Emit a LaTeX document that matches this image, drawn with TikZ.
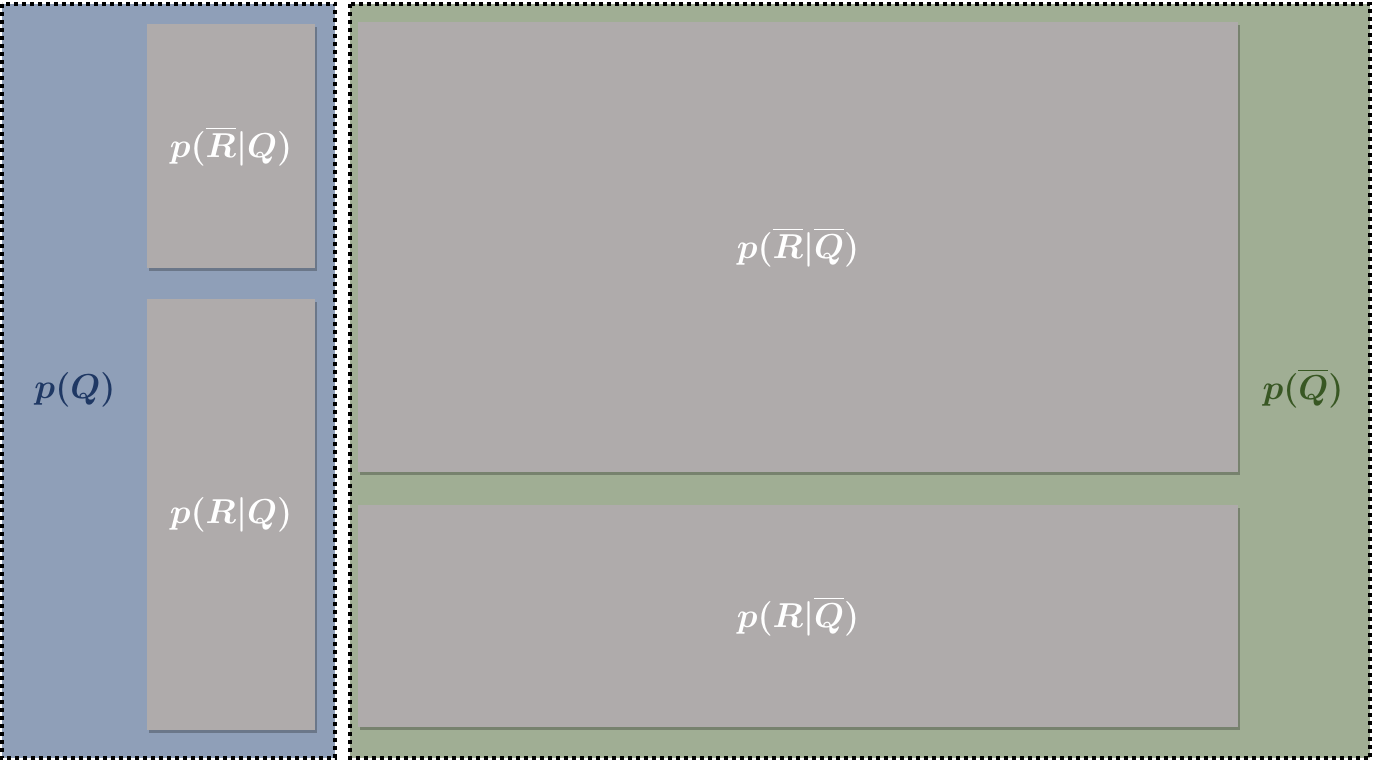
\documentclass[tikz,border=0pt]{standalone}
\usepackage{amsmath}
\usepackage{amssymb}
\usepackage{bm}
\usetikzlibrary{shadows}
\definecolor{qblue}{RGB}{143,159,184}
\definecolor{qgreen}{RGB}{160,174,148}
\definecolor{cellgrey}{RGB}{175,171,171}
\definecolor{qbluetext}{RGB}{31,56,100}
\definecolor{qgreentext}{RGB}{56,87,35}

\begin{document}
\begin{tikzpicture}[
  x=0.5pt, y=-0.5pt,
  panel/.style={draw=black, line width=2pt, dash pattern=on 2pt off 2pt},
  cell/.style={fill=cellgrey, inner sep=0pt, text=white,
    font=\fontsize{19}{21}\selectfont,
    drop shadow={shadow xshift=1pt, shadow yshift=-1.5pt, fill=black, opacity=0.25}},
]
  \useasboundingbox (0,0) rectangle (1397,761);
  % the two parts of the whole
  \draw[panel, fill=qblue] (1.5,3.5) rectangle (335,758);
  \draw[panel, fill=qgreen] (350,3.5) rectangle (1370,758);
  \node (pq) [text=qbluetext, font=\fontsize{19}{21}\selectfont] at (75,390) {$\bm{p(Q)}$};
  \node (pnq) [text=qgreentext, font=\fontsize{19}{21}\selectfont] at (1303,388) {$\bm{p(\overline{Q})}$};
  % conditional parts
  \node (nrq) [cell, minimum width=84pt, minimum height=122pt] at (231,146) {$\bm{p(\overline{R}|Q)}$};
  \node (rq) [cell, minimum width=84pt, minimum height=215.5pt] at (231,514.5) {$\bm{p(R|Q)}$};
  \node (nrnq) [cell, minimum width=440pt, minimum height=225pt] at (798,247) {$\bm{p(\overline{R}|\overline{Q})}$};
  \node (rnq) [cell, minimum width=440pt, minimum height=111pt] at (798,616) {$\bm{p(R|\overline{Q})}$};
\end{tikzpicture}
\end{document}
